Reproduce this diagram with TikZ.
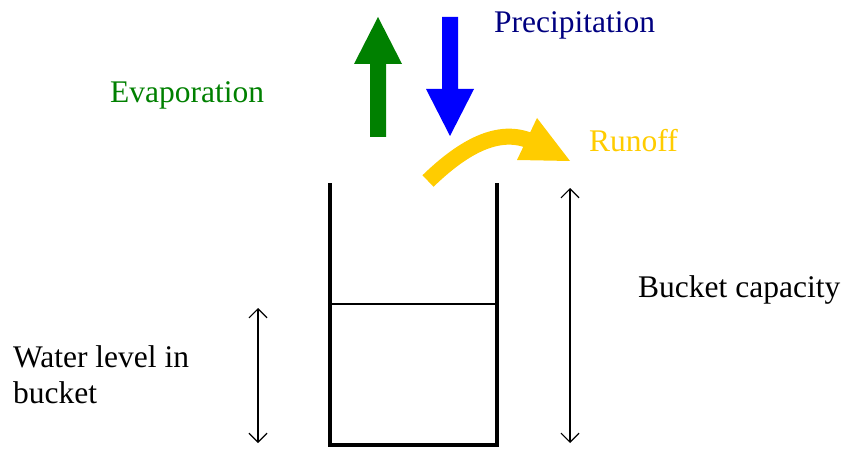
\documentclass[tikz,border=0pt]{standalone}
\usepackage{fontspec}
\setmainfont{Liberation Serif}
\usetikzlibrary{arrows.meta}
\begin{document}
\begin{tikzpicture}[x=1pt,y=-1pt,
  lbl/.style={font=\fontsize{31.5}{36}\selectfont, inner sep=0pt},
  wall/.style={line width=4pt},
  dim/.style={line width=1.2pt,{Straight Barb[length=9pt,width=18pt,line width=1.2pt]}-{Straight Barb[length=9pt,width=18pt,line width=1.2pt]}},
  fat/.style={line width=16pt}]
\useasboundingbox (0,0) rectangle (845,449);
\definecolor{evgreen}{RGB}{0,128,0}
\definecolor{prblue}{RGB}{0,0,255}
\definecolor{prtext}{RGB}{0,0,128}
\definecolor{ruyellow}{RGB}{255,204,0}
% bucket
\coordinate (bl) at (330,445);
\coordinate (br) at (497,445);
\coordinate (tl) at (330,183);
\coordinate (tr) at (497,183);
\draw[wall, line join=miter] (tl) -- (bl) -- (br) -- (tr);
\coordinate (wl) at (330,304);
\coordinate (wr) at (497,304);
\draw[line width=1.5pt] (wl) -- (wr);
% evaporation arrow
\fill[evgreen] (370,137) -- (370,64) -- (354,64) -- (378,17) -- (402,64) -- (386,64) -- (386,137) -- cycle;
% precipitation arrow
\fill[prblue] (442,17) -- (442,89) -- (426,89) -- (450,136) -- (474,89) -- (458,89) -- (458,17) -- cycle;
% runoff
\coordinate (rs) at (428,181);
\coordinate (re) at (528,140);
\draw[ruyellow, fat] (rs) .. controls (460,150) and (495,128) .. (re);
\fill[ruyellow] (537,118) -- (570,161) -- (517,160) -- cycle;
% dimension arrows
\coordinate (wa) at (258,308);
\coordinate (wb) at (258,443);
\draw[dim] (wa) -- (wb);
\coordinate (ca) at (570,188);
\coordinate (cb) at (570,443);
\draw[dim] (ca) -- (cb);
% labels
\node[lbl, text=prtext, anchor=base west] (prec) at (494,33) {Precipitation};
\node[lbl, text=evgreen, anchor=base west] (evap) at (110,103) {Evaporation};
\node[lbl, text=ruyellow, anchor=base west] (runoff) at (589,152) {Runoff};
\node[lbl, anchor=base west] (cap) at (638,297) {Bucket capacity};
\node[lbl, anchor=base west, align=left] (lev) at (13,403) {Water level in\\bucket};
\end{tikzpicture}
\end{document}
